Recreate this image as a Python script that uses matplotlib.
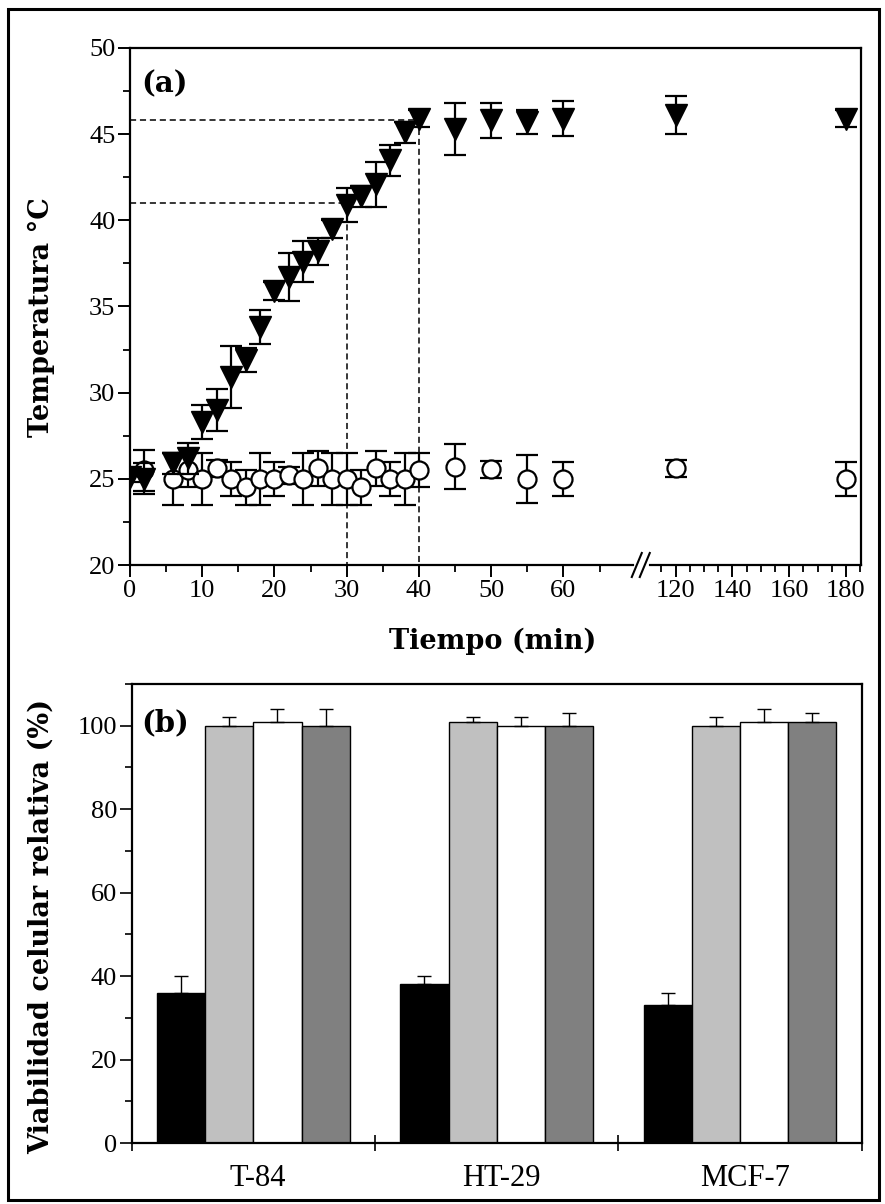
import numpy as np
import matplotlib
matplotlib.use("Agg")
import matplotlib.pyplot as plt
from matplotlib.patches import Rectangle
from matplotlib.lines import Line2D

# ---------------- data: panel (a) heating curves ----------------
t_np = [0, 2, 6, 8, 10, 12, 14, 16, 18, 20, 22, 24, 26, 28, 30, 32, 34, 36, 38, 40,
        45, 50, 55, 60, 120, 180]
temp_np = [25.1, 25.0, 25.9, 26.2, 28.3, 29.0, 30.9, 31.9, 33.8, 35.9, 36.7, 37.6, 38.2,
           39.5, 40.9, 41.4, 42.1, 43.5, 45.1, 45.9, 45.3, 45.8, 45.7, 45.9, 46.1, 45.9]
err_np = [0.3, 0.9, 0.6, 0.9, 1.0, 1.2, 1.8, 0.7, 1.0, 0.5, 1.4, 1.2, 0.8, 0.5, 1.0,
          0.6, 1.3, 0.9, 0.6, 0.5, 1.5, 1.0, 0.7, 1.0, 1.1, 0.5]

t_ctrl = [2, 6, 8, 10, 12, 14, 16, 18, 20, 22, 24, 26, 28, 30, 32, 34, 36, 38, 40,
          45, 50, 55, 60, 120, 180]
temp_ctrl = [25.5, 25.0, 25.5, 25.0, 25.6, 25.0, 24.5, 25.0, 25.0, 25.2, 25.0, 25.6, 25.0,
             25.0, 24.5, 25.6, 25.0, 25.0, 25.5, 25.7, 25.55, 25.0, 25.0, 25.6, 25.0]
err_ctrl = [1.2, 1.5, 1.0, 1.5, 0.5, 1.0, 1.0, 1.5, 1.0, 0.5, 1.5, 1.0, 1.5, 1.5, 1.0,
            1.0, 1.0, 1.5, 1.0, 1.3, 0.5, 1.4, 1.0, 0.5, 1.0]

# reference temperatures reached at 30 and 40 min
guide_t = [30, 40]
guide_T = [41.0, 45.8]

x_major = [0, 10, 20, 30, 40, 50, 60, 120, 140, 160, 180]
x_minor = [5, 15, 25, 35, 45, 55, 65, 115, 125, 130, 135, 145, 150, 155, 165, 170, 175, 185]

# ---------------- data: panel (b) viability ----------------
cells = ["T-84", "HT-29", "MCF-7"]
via_black = [36, 38, 33]
err_black = [4, 2, 3]
via_lgray = [100, 101, 100]
err_lgray = [2, 1, 2]
via_white = [101, 100, 101]
err_white = [3, 2, 3]
via_dgray = [100, 100, 101]
err_dgray = [4, 3, 2]

# ---------------- style ----------------
plt.rcParams["font.family"] = ["Liberation Serif", "DejaVu Serif"]
LABEL_FONT = dict(family="DejaVu Serif", weight="bold", size=19.5)
TICK_SIZE = 19

W, H = 885, 1204
fig = plt.figure(figsize=(W / 100, H / 100), dpi=100)
fig.patch.set_facecolor("white")

# outer frame
fig.add_artist(Rectangle((8 / W, 4 / H), 871 / W, 1191 / H, transform=fig.transFigure,
                         fill=False, edgecolor="black", linewidth=2.2))

# ---------------- panel (a) with broken time axis ----------------
S1, S2 = 7.23, 2.84          # px per minute left / right of the break
A_CUT, B_CUT = 70.7, 107.7   # minutes where the axis is cut


def fwd(x):
    x = np.asarray(x, dtype=float)
    return np.where(x <= A_CUT, x * S1,
                    np.where(x >= B_CUT, A_CUT * S1 + (x - B_CUT) * S2, A_CUT * S1))


def inv(y):
    y = np.asarray(y, dtype=float)
    return np.where(y <= A_CUT * S1, y / S1, B_CUT + (y - A_CUT * S1) / S2)


ax1 = fig.add_axes([130 / W, 1 - 565 / H, 731 / W, 517 / H])
ax1.set_xscale("function", functions=(fwd, inv))
XMAX = 185.3
ax1.set_xlim(0, XMAX)
ax1.set_ylim(20, 50)

ax1.errorbar(t_ctrl, temp_ctrl, yerr=err_ctrl, fmt="o", ms=13, mfc="white", mec="black",
             mew=1.6, ecolor="black", elinewidth=1.6, capsize=8, capthick=1.6, zorder=3)
ax1.errorbar(t_np, temp_np, yerr=err_np, fmt="v", ms=16.5, mfc="black", mec="black",
             ecolor="black", elinewidth=1.6, capsize=8, capthick=1.6, zorder=4)

for tg, Tg in zip(guide_t, guide_T):
    ax1.plot([0, tg, tg], [Tg, Tg, 20], ls=(0, (4, 2.5)), color="black", lw=1.1, zorder=2)

ax1.set_xticks(x_major)
ax1.set_xticklabels([str(v) for v in x_major])
ax1.set_xticks(x_minor, minor=True)
ax1.set_yticks(np.arange(20, 51, 5))
ax1.set_yticks(np.arange(22.5, 50, 5), minor=True)

for s in ax1.spines.values():
    s.set_linewidth(1.6)
ax1.tick_params(which="major", direction="out", length=8.5, width=1.4,
                labelsize=TICK_SIZE, pad=2)
ax1.tick_params(which="minor", direction="out", length=5, width=1.3)

# break marks on the time axis
xb = float(fwd(A_CUT) / fwd(XMAX))
px_x, px_y = 1 / 731, 1 / 517
ax1.add_line(Line2D([xb - 5 * px_x, xb + 5 * px_x], [0, 0], transform=ax1.transAxes,
                    color="white", lw=3.5, clip_on=False, zorder=5))
for off in (-4, 4):
    ax1.add_line(Line2D([xb + (off - 5) * px_x, xb + (off + 5) * px_x],
                        [-12 * px_y, 12 * px_y], transform=ax1.transAxes,
                        color="black", lw=1.5, clip_on=False, zorder=6))

ax1.text(0.016, 0.93, "(a)", transform=ax1.transAxes, ha="left", va="center",
         family="DejaVu Serif", weight="bold", size=21)
fig.text(41 / W, 1 - 317 / H, "Temperatura °C", rotation=90, ha="center", va="center",
         **LABEL_FONT)
fig.text(493 / W, 1 - 641 / H, "Tiempo (min)", ha="center", va="center", **LABEL_FONT)

# ---------------- panel (b) ----------------
ax2 = fig.add_axes([131.7 / W, 1 - 1143 / H, 730 / W, 459 / H])
ax2.set_xlim(-0.5, 2.5)
ax2.set_ylim(0, 110)

pos = np.arange(len(cells))
bw = 0.198
series = [(via_black, err_black, "black"), (via_lgray, err_lgray, "#c0c0c0"),
          (via_white, err_white, "white"), (via_dgray, err_dgray, "#808080")]
for k, (vals, errs, col) in enumerate(series):
    xk = pos + (k - 1.5) * bw
    ax2.bar(xk, vals, width=bw, color=col, edgecolor="black", linewidth=1.0, zorder=2)
    ax2.errorbar(xk, vals, yerr=[np.zeros(len(errs)), errs], fmt="none", ecolor="black",
                 elinewidth=1.0, capsize=5, capthick=1.0, zorder=3)

ax2.set_xticks([-0.5, 0.5, 1.5, 2.5])
ax2.set_xticklabels([])
ax2.set_xticks(pos + 0.02, minor=True)
ax2.set_xticklabels(cells, minor=True)
ax2.tick_params(axis="x", which="major", direction="inout", length=12, width=1.2)
ax2.tick_params(axis="x", which="minor", length=0, labelsize=TICK_SIZE + 3, pad=15)
ax2.set_yticks(np.arange(0, 101, 20))
ax2.set_yticks(np.arange(10, 111, 20), minor=True)
ax2.tick_params(axis="y", which="major", direction="out", length=8.5, width=1.2,
                labelsize=TICK_SIZE, pad=2)
ax2.tick_params(axis="y", which="minor", direction="out", length=5, width=1.2)
for s in ax2.spines.values():
    s.set_linewidth(1.6)

ax2.text(0.013, 0.915, "(b)", transform=ax2.transAxes, ha="left", va="center",
         family="DejaVu Serif", weight="bold", size=21)
fig.text(41 / W, 1 - 926 / H, "Viabilidad celular relativa (%)", rotation=90,
         ha="center", va="center", **LABEL_FONT)

fig.savefig("out.png", dpi=100)
